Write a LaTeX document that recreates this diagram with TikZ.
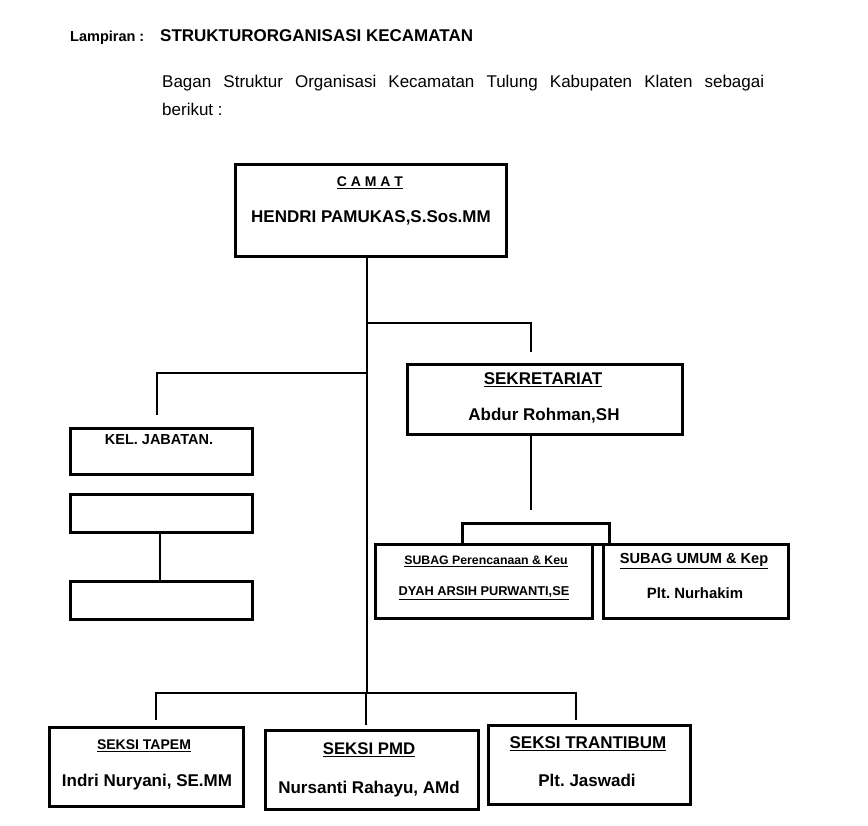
\documentclass[tikz,border=0pt]{standalone}
\usepackage{fontspec}
\setmainfont{Liberation Sans}
\usetikzlibrary{calc}
\frenchspacing
\tikzset{
  x=1pt,y=-1pt,
  box/.style={draw,line width=2.6pt,inner sep=0pt,anchor=north west},
  conn/.style={line width=2.6pt},
  lbl/.style={inner sep=0pt,font=\bfseries},
}
\newcommand{\fs}[1]{\fontsize{#1}{#1}\selectfont}
\begin{document}
\begin{tikzpicture}
\useasboundingbox (0,0) rectangle (868,826);
% header
\node[lbl,anchor=west,font=\bfseries\fs{14.5}] (lamp) at (70,38) {Lampiran :};
\node[lbl,anchor=west,font=\bfseries\fs{17}] (title) at (160,36) {STRUKTURORGANISASI KECAMATAN};
\node[inner sep=0pt,anchor=north west,text width=602pt,align=justify,font=\fontsize{17}{28}\selectfont] (para) at (162,75)
  {Bagan Struktur Organisasi Kecamatan Tulung Kabupaten Klaten sebagai\linebreak berikut :};
% boxes
\node[box,minimum width=271pt,minimum height=92pt] (camat) at (234,163) {};
\node[box,minimum width=275pt,minimum height=70pt] (sek) at (406,363) {};
\node[box,minimum width=182pt,minimum height=46pt] (kel) at (69,427) {};
\node[box,minimum width=182pt,minimum height=38pt] (kelb) at (69,493) {};
\node[box,minimum width=182pt,minimum height=38pt] (kelc) at (69,580) {};
\node[box,minimum width=147pt,minimum height=21pt] (sub) at (461,522) {};
\node[box,minimum width=217pt,minimum height=74pt] (suba) at (374,543) {};
\node[box,minimum width=185pt,minimum height=74pt] (subb) at (602,543) {};
\node[box,minimum width=194pt,minimum height=79pt] (tapem) at (48,726) {};
\node[box,minimum width=213pt,minimum height=79pt] (pmd) at (264,729) {};
\node[box,minimum width=202pt,minimum height=79pt] (tran) at (487,724) {};
% labels
\node[lbl,font=\bfseries\fs{14}] (camat1) at (370,183) {\underline{C A M A T}};
\node[lbl,font=\bfseries\fs{17}] (camat2) at (371,218) {HENDRI PAMUKAS,S.Sos.MM};
\node[lbl,font=\bfseries\fs{17}] (sek1) at (543,380) {\underline{SEKRETARIAT}};
\node[lbl,font=\bfseries\fs{17}] (sek2) at (544,416) {Abdur Rohman,SH};
\node[lbl,font=\bfseries\fs{14.5}] (kel1) at (159,440) {KEL. JABATAN.};
\node[lbl,font=\bfseries\fs{12.3}] (suba1) at (486,561) {\underline{SUBAG Perencanaan \& Keu}};
\node[lbl,font=\bfseries\fs{12.8}] (suba2) at (484,593) {\underline{DYAH ARSIH PURWANTI,SE}};
\node[lbl,font=\bfseries\fs{14.6}] (subb1) at (694,561) {\underline{SUBAG UMUM \& Kep}};
\node[lbl,font=\bfseries\fs{14.9}] (subb2) at (695,593) {Plt. Nurhakim};
\node[lbl,font=\bfseries\fs{14}] (tapem1) at (144,746) {\underline{SEKSI TAPEM}};
\node[lbl,font=\bfseries\fs{17}] (tapem2) at (147,782) {Indri Nuryani, SE.MM};
\node[lbl,font=\bfseries\fs{16.8}] (pmd1) at (369,750) {\underline{SEKSI PMD}};
\node[lbl,font=\bfseries\fs{17}] (pmd2) at (369,789) {Nursanti Rahayu, AMd};
\node[lbl,font=\bfseries\fs{17}] (tran1) at (588,744) {\underline{SEKSI TRANTIBUM}};
\node[lbl,font=\bfseries\fs{17}] (tran2) at (587,780) {Plt. Jaswadi};
% junction coordinates
\coordinate (bj) at (367,693);
\coordinate (js) at (367,323);
\coordinate (jk) at (367,373);
\coordinate (sekin) at (531,352);
\coordinate (kelin) at (157,415);
\coordinate (sekout) at (531,510);
\coordinate (tapin) at (156,720);
\coordinate (pmdin) at (366,725);
\coordinate (tranin) at (576,720);
% connectors
\draw[conn] (camat.south -| bj) -- (bj);
\draw[conn] (js) -| (sekin);
\draw[conn] (jk) -| (kelin);
\draw[conn] (sek.south -| sekout) -- (sekout);
\draw[conn] (kelb.south -| 160,0) -- (kelc.north -| 160,0);
\draw[conn] (tapin) |- (bj) -| (tranin);
\draw[conn] (pmdin) -- (pmdin |- bj);
\end{tikzpicture}
\end{document}
